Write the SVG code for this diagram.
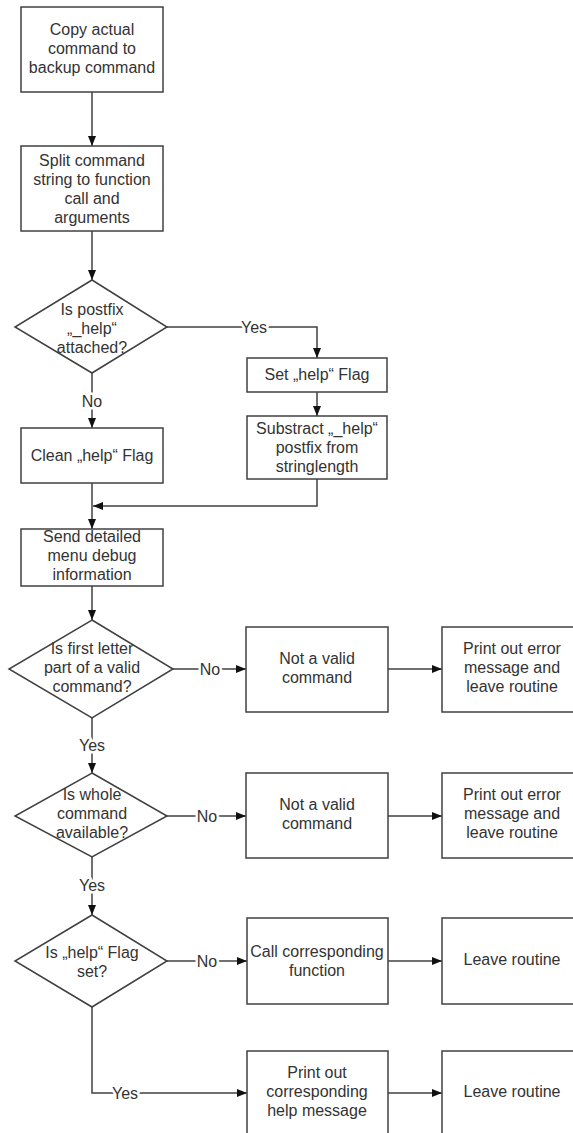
<svg xmlns="http://www.w3.org/2000/svg" width="573" height="1133" viewBox="0 0 573 1133">
<defs>
<style>
.box{fill:#fff;stroke:#404040;stroke-width:1.5}
.t{font-family:"Liberation Sans",Arial,sans-serif;font-size:16px;fill:#333;text-anchor:middle}
.lbl{font-family:"Liberation Sans",Arial,sans-serif;font-size:16px;fill:#333;text-anchor:middle;stroke:#fff;stroke-width:5;paint-order:stroke;stroke-linejoin:round}
.c{fill:none;stroke:#404040;stroke-width:1.5}
.a{marker-end:url(#ah)}
</style>
<marker id="ah" markerUnits="userSpaceOnUse" markerWidth="11" markerHeight="10" refX="10" refY="4" orient="auto">
<path d="M0,0 L10,4 L0,8 z" fill="#111"/>
</marker>
</defs>
<rect width="573" height="1133" fill="#fff"/>
<g id="connectors">
<path class="c a" d="M92,92 V146"/>
<path class="c a" d="M92,231 V280"/>
<path class="c a" d="M167,327 H317 V358"/>
<path class="c a" d="M317,392 V416"/>
<path class="c a" d="M92,373 V428"/>
<path class="c a" d="M92,483 V529"/>
<path class="c a" d="M317,479 V506 H93"/>
<path class="c a" d="M92,586 V620"/>
<path class="c a" d="M173,669 H246"/>
<path class="c a" d="M388,669 H442"/>
<path class="c a" d="M92,718 V773"/>
<path class="c a" d="M167,816 H246"/>
<path class="c a" d="M388,816 H442"/>
<path class="c a" d="M92,857 V915"/>
<path class="c a" d="M167,961 H247"/>
<path class="c a" d="M388,961 H442"/>
<path class="c a" d="M92,1007 V1093 H247"/>
<path class="c a" d="M388,1093 H442"/>
<text class="lbl" x="254" y="333">Yes</text>
<text class="lbl" x="92" y="407">No</text>
<text class="lbl" x="210" y="675">No</text>
<text class="lbl" x="92" y="751">Yes</text>
<text class="lbl" x="207" y="822">No</text>
<text class="lbl" x="92" y="891">Yes</text>
<text class="lbl" x="207" y="967">No</text>
<text class="lbl" x="125" y="1099">Yes</text>
</g>
<g id="n1"><rect class="box" x="21" y="7" width="142" height="85"/>
<text class="t" x="92" y="35">Copy actual</text><text class="t" x="92" y="54">command to</text><text class="t" x="92" y="73">backup command</text></g>
<g id="n2"><rect class="box" x="21" y="146" width="142" height="85"/>
<text class="t" x="92" y="166">Split command</text><text class="t" x="92" y="185">string to function</text><text class="t" x="92" y="204">call and</text><text class="t" x="92" y="223">arguments</text></g>
<g id="d1"><path class="box" d="M92,280 L167,327 L92,373 L15,327 Z"/>
<text class="t" x="92" y="315">Is postfix</text><text class="t" x="92" y="334">„_help“</text><text class="t" x="92" y="353">attached?</text></g>
<g id="n3"><rect class="box" x="247" y="358" width="140" height="34"/>
<text class="t" x="317" y="380">Set „help“ Flag</text></g>
<g id="n4"><rect class="box" x="247" y="416" width="140" height="63"/>
<text class="t" x="317" y="434">Substract „_help“</text><text class="t" x="317" y="453">postfix from</text><text class="t" x="317" y="472">stringlength</text></g>
<g id="n5"><rect class="box" x="21" y="428" width="142" height="55"/>
<text class="t" x="92" y="461">Clean „help“ Flag</text></g>
<g id="n6"><rect class="box" x="21" y="529" width="142" height="57"/>
<text class="t" x="92" y="542">Send detailed</text><text class="t" x="92" y="561">menu debug</text><text class="t" x="92" y="580">information</text></g>
<g id="d2"><path class="box" d="M92,620 L173,669 L92,718 L9,669 Z"/>
<text class="t" x="92" y="654">Is first letter</text><text class="t" x="92" y="673">part of a valid</text><text class="t" x="92" y="692">command?</text></g>
<g id="n7"><rect class="box" x="246" y="627" width="142" height="85"/>
<text class="t" x="317" y="664">Not a valid</text><text class="t" x="317" y="683">command</text></g>
<g id="n8"><rect class="box" x="442" y="627" width="141" height="85"/>
<text class="t" x="512" y="654">Print out error</text><text class="t" x="512" y="673">message and</text><text class="t" x="512" y="692">leave routine</text></g>
<g id="d3"><path class="box" d="M92,773 L167,816 L92,857 L15,816 Z"/>
<text class="t" x="92" y="800">Is whole</text><text class="t" x="92" y="819">command</text><text class="t" x="92" y="838">available?</text></g>
<g id="n9"><rect class="box" x="246" y="773" width="142" height="85"/>
<text class="t" x="317" y="810">Not a valid</text><text class="t" x="317" y="829">command</text></g>
<g id="n10"><rect class="box" x="442" y="773" width="141" height="85"/>
<text class="t" x="512" y="800">Print out error</text><text class="t" x="512" y="819">message and</text><text class="t" x="512" y="838">leave routine</text></g>
<g id="d4"><path class="box" d="M92,915 L167,961 L92,1007 L15,961 Z"/>
<text class="t" x="92" y="958">Is „help“ Flag</text><text class="t" x="92" y="977">set?</text></g>
<g id="n11"><rect class="box" x="247" y="918" width="141" height="86"/>
<text class="t" x="317" y="957">Call corresponding</text><text class="t" x="317" y="976">function</text></g>
<g id="n12"><rect class="box" x="442" y="918" width="141" height="86"/>
<text class="t" x="512" y="965">Leave routine</text></g>
<g id="n13"><rect class="box" x="247" y="1051" width="141" height="85"/>
<text class="t" x="317" y="1078">Print out</text><text class="t" x="317" y="1097">corresponding</text><text class="t" x="317" y="1116">help message</text></g>
<g id="n14"><rect class="box" x="442" y="1051" width="141" height="85"/>
<text class="t" x="512" y="1097">Leave routine</text></g>
</svg>
